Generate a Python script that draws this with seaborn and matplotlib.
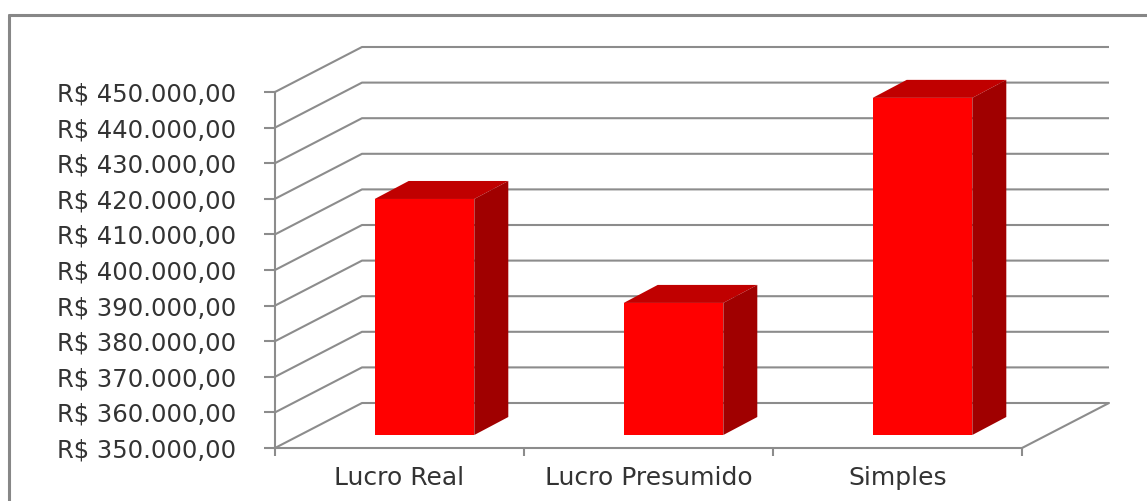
import numpy as np
import pandas as pd
import matplotlib
matplotlib.use("Agg")
import matplotlib.pyplot as plt
import seaborn as sns
from matplotlib.patches import Polygon
from matplotlib.lines import Line2D
from matplotlib.ticker import FuncFormatter

# ---------------- data ----------------
categories = ["Lucro Real", "Lucro Presumido", "Simples"]
values = [416300, 387100, 444700]
y_ticks = list(range(350000, 450001, 10000))

# ---------------- style ----------------
W, H = 1147, 501
sns.set_theme(style="white")
plt.rcParams["font.family"] = ["DejaVu Sans"]

grid_c = "#8c8c8c"
text_c = "#333333"
front_c = "#FF0000"
top_c = "#C00000"
side_c = "#A00000"

fig = plt.figure(figsize=(W / 100, H / 100), dpi=100)
fig.patch.set_facecolor("white")

# front plane of the axes, in pixels
ax_l, ax_r, ax_t, ax_b = 275, 1022, 92, 448
ax = fig.add_axes([ax_l / W, 1 - ax_b / H, (ax_r - ax_l) / W, (ax_b - ax_t) / H])
ymin, ymax = y_ticks[0], y_ticks[-1]
ax.set_xlim(-0.5, len(categories) - 0.5)
ax.set_ylim(ymin, ymax)
ax.set_facecolor("none")

px_x = (ax_r - ax_l) / len(categories)        # px per category unit
px_y = (ax_b - ax_t) / (ymax - ymin)          # px per value unit

# back wall depth offset
DX = 87 / px_x
DY = 45 / px_y
xl, xr = -0.5, len(categories) - 0.5
for v in y_ticks:
    ax.plot([xl, xl + DX, xr + DX], [v, v + DY, v + DY], color=grid_c, lw=1.5,
            clip_on=False, zorder=1, solid_capstyle="butt")
# floor right edge
ax.plot([xr, xr + DX], [ymin, ymin + DY], color=grid_c, lw=1.5, clip_on=False, zorder=1)

for s in ["top", "right"]:
    ax.spines[s].set_visible(False)
for s in ["left", "bottom"]:
    ax.spines[s].set_color(grid_c)
    ax.spines[s].set_linewidth(1.5)

ax.set_yticks(y_ticks)
ax.yaxis.set_major_formatter(FuncFormatter(
    lambda v, p: "R$ " + f"{v:,.2f}".replace(",", "X").replace(".", ",").replace("X", ".")))
ax.tick_params(axis="y", direction="out", length=8, width=1.5, color=grid_c,
               pad=20, labelsize=17.5, labelcolor=text_c, left=True)
ax.set_xticks(range(len(categories)))
ax.set_xticklabels(categories)
ax.tick_params(axis="x", which="major", length=0, pad=13, labelsize=18, labelcolor=text_c)
ax.set_xticks(np.arange(-0.5, len(categories), 1.0), minor=True)
ax.tick_params(axis="x", which="minor", direction="out", length=6, width=1.5,
               color=grid_c, bottom=True)
ax.set_xlabel("")
ax.set_ylabel("")

# bar plane (shifted in depth)
shift_x, shift_y = 25, 13
ax_bar = fig.add_axes([(ax_l + shift_x) / W, 1 - (ax_b - shift_y) / H,
                       (ax_r - ax_l) / W, (ax_b - ax_t) / H])
ax_bar.set_zorder(2)
df = pd.DataFrame({"cat": categories, "val": values})
sns.barplot(data=df, x="cat", y="val", ax=ax_bar, color=front_c, saturation=1,
            width=0.4, edgecolor="none", linewidth=0)
ax_bar.set_xlim(-0.5, len(categories) - 0.5)
ax_bar.set_ylim(ymin, ymax)
ax_bar.axis("off")
ax_bar.patch.set_visible(False)

bdx = 34 / px_x
bdy = 18 / px_y
for p in list(ax_bar.patches):
    x0 = p.get_x()
    x1 = x0 + p.get_width()
    top = p.get_y() + p.get_height()
    ax_bar.add_patch(Polygon([(x0, top), (x1, top), (x1 + bdx, top + bdy), (x0 + bdx, top + bdy)],
                             closed=True, facecolor=top_c, edgecolor="none", clip_on=False, zorder=3))
    ax_bar.add_patch(Polygon([(x1, ymin), (x1 + bdx, ymin + bdy), (x1 + bdx, top + bdy), (x1, top)],
                             closed=True, facecolor=side_c, edgecolor="none", clip_on=False, zorder=3))

# outer chart border (extends beyond the image on right/bottom)
fig.add_artist(Line2D([9 / W, 9 / W], [-0.01, 1 - 15 / H], transform=fig.transFigure,
                      color="#878787", lw=2.2))
fig.add_artist(Line2D([9 / W, 1.01], [1 - 15 / H, 1 - 15 / H], transform=fig.transFigure,
                      color="#878787", lw=2.2))

fig.savefig("out.png", dpi=100, facecolor="white")
